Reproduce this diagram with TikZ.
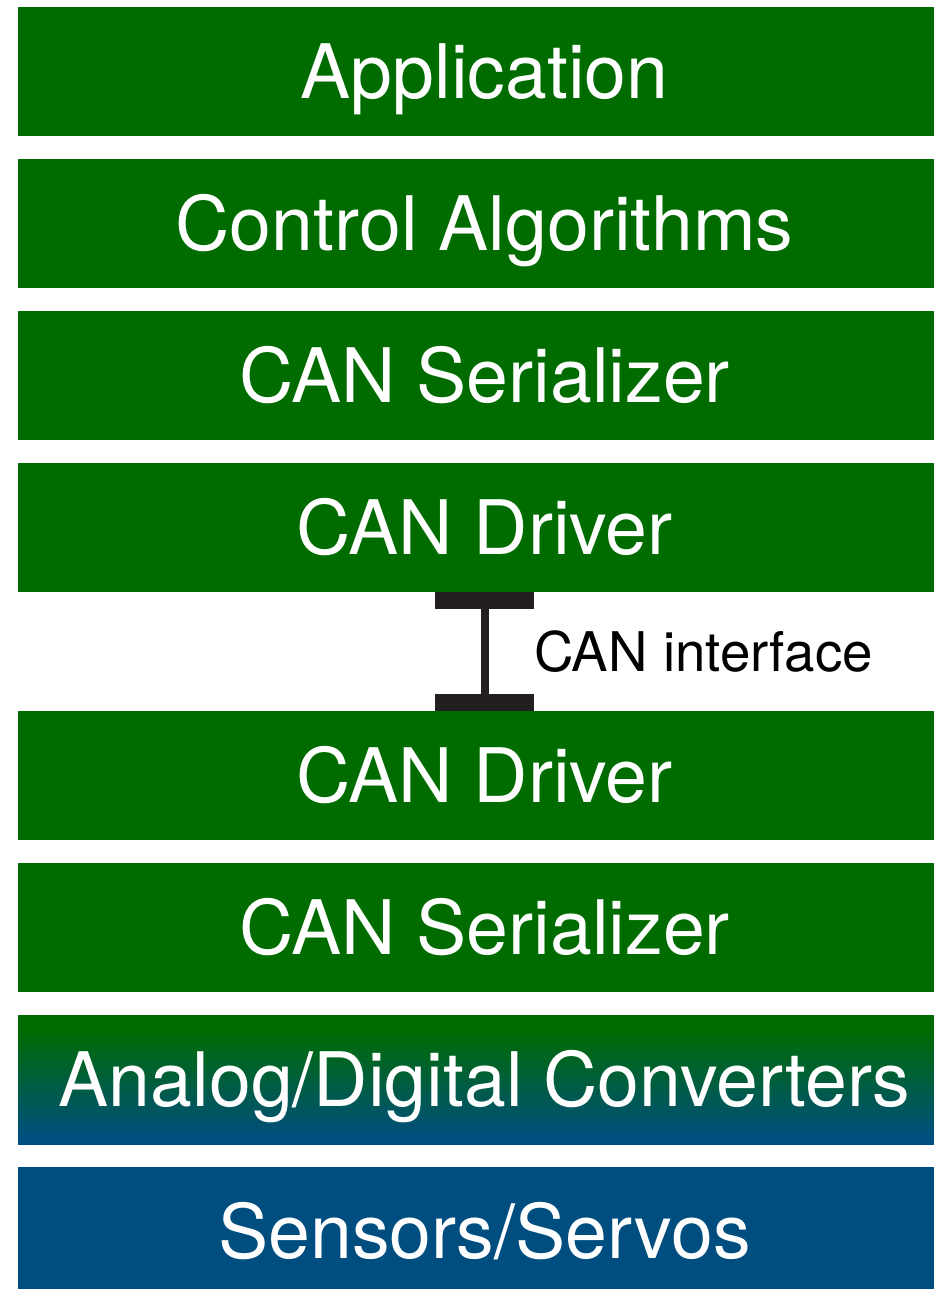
\documentclass[tikz,border=0pt]{standalone}
\usepackage{fontspec}
\setmainfont{TeX Gyre Heros}
\usetikzlibrary{positioning,arrows.meta}
\definecolor{layergreen}{RGB}{0,108,0}
\definecolor{layerblue}{RGB}{0,78,128}
\definecolor{beamgray}{RGB}{35,31,32}
\pgfdeclareverticalshading{greentoblue}{100bp}{color(0bp)=(layerblue); color(27bp)=(layerblue); color(70bp)=(layergreen); color(100bp)=(layergreen)}

\begin{document}
\begin{tikzpicture}[x=0.75pt, y=-0.75pt, node distance=114pt, on grid,
layer/.style={rectangle, fill=layergreen, text=white, inner sep=0pt,
minimum width=699.75pt, minimum height=96.75pt,
font=\fontsize{56.4pt}{60pt}\selectfont, text height=40.4pt, text depth=0pt},
beam/.style={draw=beamgray, line width=6pt,
{Rectangle[length=12.75pt,width=74.25pt]}-{Rectangle[length=12.75pt,width=74.25pt]}}]
\useasboundingbox (0,0) rectangle (933,1289);

\node[layer] (app) at (484.5,71.5) {Application};
\node[layer, below=of app] (ctrl) {Control Algorithms};
\node[layer, below=of ctrl] (ser1) {CAN Serializer};
\node[layer, below=of ser1] (drv1) {CAN Driver};
\node[layer, below=186pt of drv1] (drv2) {CAN Driver};
\node[layer, below=of drv2] (ser2) {CAN Serializer};
\node[layer, shading=greentoblue, below=of ser2] (adc) {Analog/Digital Converters};
\node[layer, fill=layerblue, below=of adc] (sens) {Sensors/Servos};

% CAN bus between the two drivers
\draw[beam] (drv1) -- (drv2)
  node[midway, anchor=west, xshift=34.2pt, inner sep=0pt, text=black,
  font=\fontsize{41pt}{44pt}\selectfont, text height=29.5pt, text depth=0pt] (canlbl) {CAN interface};
\end{tikzpicture}
\end{document}
